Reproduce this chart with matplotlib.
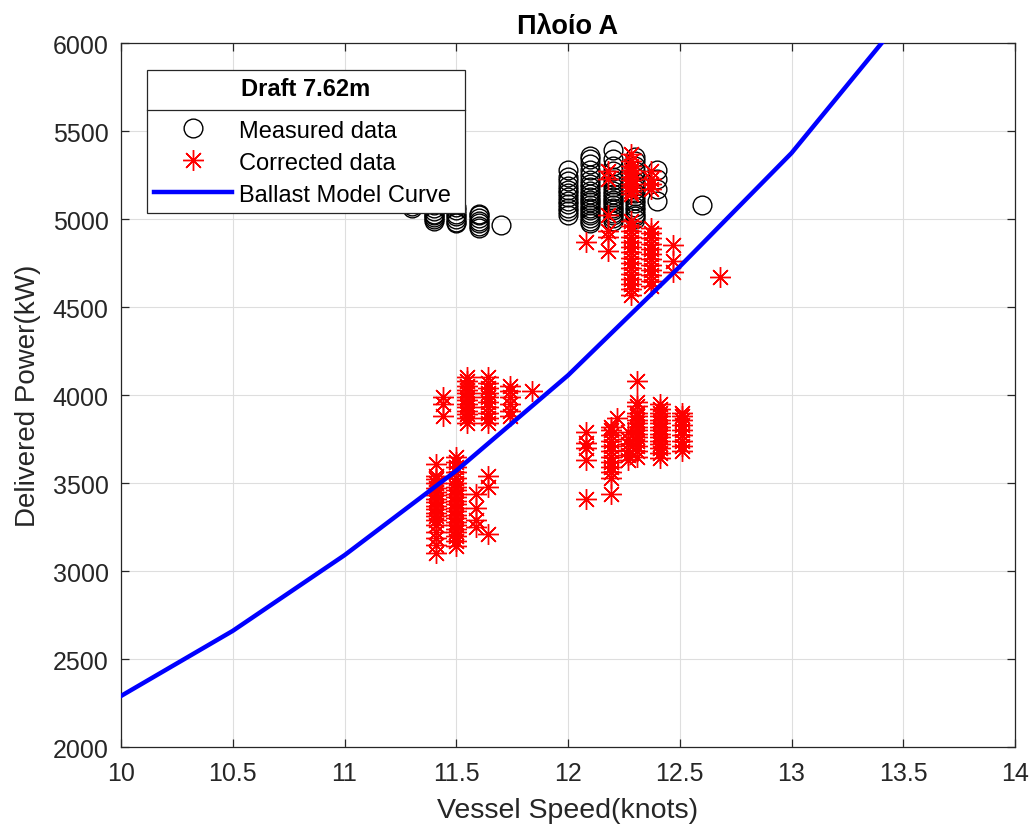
import matplotlib
matplotlib.use('Agg')
import matplotlib.pyplot as plt
from matplotlib.lines import Line2D

plt.rcParams['font.family'] = ['Liberation Sans', 'DejaVu Sans']

# Ballast model curve
model_speed = [10, 10.5, 11, 11.5, 12, 12.5, 13, 13.5, 14]
model_power = [2290, 2660, 3090, 3570, 4112, 4730, 5375, 6150, 7000]

# Measured data (black circles), grouped by speed
measured_speeds = [11.3, 11.4, 11.5, 11.6, 11.7, 12.0, 12.1, 12.2, 12.3, 12.4, 12.6]
measured_powers = [
    [5060, 5075, 5090],
    [4990, 5000, 5010, 5020, 5030, 5045, 5060, 5080],
    [4975, 4985, 5000, 5015, 5030, 5050, 5070],
    [4950, 4960, 4975, 4990, 5005, 5020, 5030],
    [4965],
    [5025, 5045, 5065, 5085, 5105, 5125, 5145, 5165, 5190, 5215, 5240, 5280],
    [4975, 4990, 5005, 5020, 5035, 5050, 5065, 5080, 5095, 5110, 5125, 5140,
     5160, 5180, 5200, 5220, 5250, 5280, 5310, 5340, 5360],
    [4990, 5005, 5020, 5035, 5050, 5065, 5080, 5095, 5110, 5125, 5140, 5160,
     5180, 5200, 5220, 5240, 5270, 5300, 5340, 5390],
    [5000, 5015, 5030, 5050, 5070, 5090, 5110, 5130, 5150, 5170, 5190, 5210,
     5240, 5270, 5300, 5330, 5350],
    [5100, 5170, 5230, 5280],
    [5080],
]

# Corrected data (red asterisks), grouped by speed
corrected_speeds = [11.41, 11.44, 11.50, 11.55, 11.59, 11.64, 11.64, 11.74, 11.84,
                    12.08, 12.19, 12.22, 12.27, 12.31, 12.41, 12.51,
                    12.08, 12.18, 12.28, 12.28, 12.37, 12.37, 12.47, 12.68]
corrected_powers = [
    [3100, 3150, 3190, 3220, 3260, 3290, 3310, 3330, 3350, 3370, 3390, 3410,
     3430, 3450, 3470, 3500, 3520, 3540, 3610],
    [3880, 3950, 3990],
    [3140, 3170, 3200, 3220, 3240, 3260, 3280, 3300, 3320, 3340, 3360, 3380,
     3400, 3420, 3440, 3460, 3480, 3500, 3530, 3560, 3590, 3620, 3650],
    [3840, 3870, 3890, 3910, 3930, 3950, 3970, 3990, 4010, 4030, 4050, 4080, 4100],
    [3250, 3290, 3360, 3440],
    [3210, 3480, 3540],
    [3840, 3870, 3900, 3930, 3960, 3990, 4010, 4040, 4070, 4100],
    [3880, 3910, 3950, 3990, 4020, 4050],
    [4020],
    [3410, 3630, 3700, 3730, 3790],
    [3440, 3530, 3560, 3590, 3620, 3650, 3680, 3710, 3740, 3770, 3800, 3820],
    [3870],
    [3630, 3660, 3690, 3720, 3750, 3790],
    [3650, 3680, 3710, 3740, 3760, 3780, 3800, 3820, 3840, 3860, 3880, 3900,
     3940, 3960, 4080],
    [3640, 3670, 3700, 3720, 3740, 3760, 3780, 3800, 3820, 3840, 3860, 3880,
     3900, 3920, 3950],
    [3680, 3710, 3740, 3770, 3800, 3830, 3860, 3880, 3900],
    [4870],
    [4820, 4900, 4930, 5020, 5230, 5270],
    [5140, 5160, 5180, 5200, 5220, 5240, 5260, 5280, 5300, 5330, 5370],
    [4570, 4600, 4630, 4660, 4690, 4720, 4750, 4780, 4810, 4840, 4870, 4900,
     4930, 4960, 4990],
    [4620, 4650, 4680, 4710, 4740, 4770, 4800, 4830, 4860, 4890, 4920, 4950],
    [5170, 5200, 5230, 5270],
    [4700, 4760, 4850],
    [4670],
]


def flatten(speeds, powers):
    xs, ys = [], []
    for s, group in zip(speeds, powers):
        for p in group:
            xs.append(s)
            ys.append(p)
    return xs, ys


mx, my = flatten(measured_speeds, measured_powers)
cx, cy = flatten(corrected_speeds, corrected_powers)

axis_color = '#262626'

fig = plt.figure(figsize=(10.3, 8.29), dpi=100)
ax = fig.add_axes([0.1175, 0.0977, 0.868, 0.8492])

ax.plot(mx, my, linestyle='none', marker='o', markersize=13.5,
        markerfacecolor='none', markeredgecolor='black', markeredgewidth=1.0,
        label='Measured data', zorder=3)
ax.plot(cx, cy, linestyle='none', marker=(8, 2, 0), markersize=15,
        color='red', markeredgewidth=1.0, label='Corrected data', zorder=4)
ax.plot(model_speed, model_power, color='blue', linewidth=3.2,
        label='Ballast Model Curve', zorder=5)

ax.set_xlim(10, 14)
ax.set_ylim(2000, 6000)
ax.set_xticks([10, 10.5, 11, 11.5, 12, 12.5, 13, 13.5, 14])
ax.set_xticklabels(['10', '10.5', '11', '11.5', '12', '12.5', '13', '13.5', '14'])
ax.set_yticks(range(2000, 6001, 500))

ax.grid(True, color='#dedede', linewidth=0.8, zorder=0)
ax.set_axisbelow(True)
for sp in ax.spines.values():
    sp.set_color(axis_color)
    sp.set_linewidth(0.9)
ax.tick_params(direction='in', length=6, width=0.9, colors=axis_color,
               labelsize=18, top=True, right=True)
ax.tick_params(axis='x', pad=10)
ax.tick_params(axis='y', pad=9)

ax.set_xlabel('Vessel Speed(knots)', fontsize=20.5, color=axis_color, labelpad=9)
ax.set_ylabel('Delivered Power(kW)', fontsize=20, color=axis_color, labelpad=8)
ax.set_title('Πλοίο A', fontsize=19.5, fontweight='bold', pad=7)

leg = ax.legend(loc='upper left', bbox_to_anchor=(0.1427, 0.7455, 0.3087, 0.1689),
                bbox_transform=fig.transFigure, borderaxespad=0, mode='expand',
                fontsize=17, title='Draft 7.62m',
                title_fontproperties={'weight': 'bold', 'size': 17},
                frameon=True, framealpha=1, fancybox=False, edgecolor='#262626',
                handlelength=3.3, handletextpad=0.3, labelspacing=0.42,
                borderpad=0.3)
leg.get_frame().set_linewidth(0.9)
leg.set_zorder(10)
# extra room between the legend title and its entries
leg._legend_box.sep += 7

# separator line under the legend title
fig.canvas.draw()
renderer = fig.canvas.get_renderer()
frame_bb = leg.get_frame().get_window_extent(renderer)
title_bb = leg.get_title().get_window_extent(renderer)
first_bb = leg.get_texts()[0].get_window_extent(renderer)
sep_y = (title_bb.y0 + first_bb.y1) / 2
inv = fig.transFigure.inverted()
(x0, y0) = inv.transform((frame_bb.x0, sep_y))
(x1, _) = inv.transform((frame_bb.x1, sep_y))
fig.add_artist(Line2D([x0, x1], [y0, y0], transform=fig.transFigure,
                      color='#262626', linewidth=0.9, zorder=11))

fig.savefig('out.png', dpi=100)
